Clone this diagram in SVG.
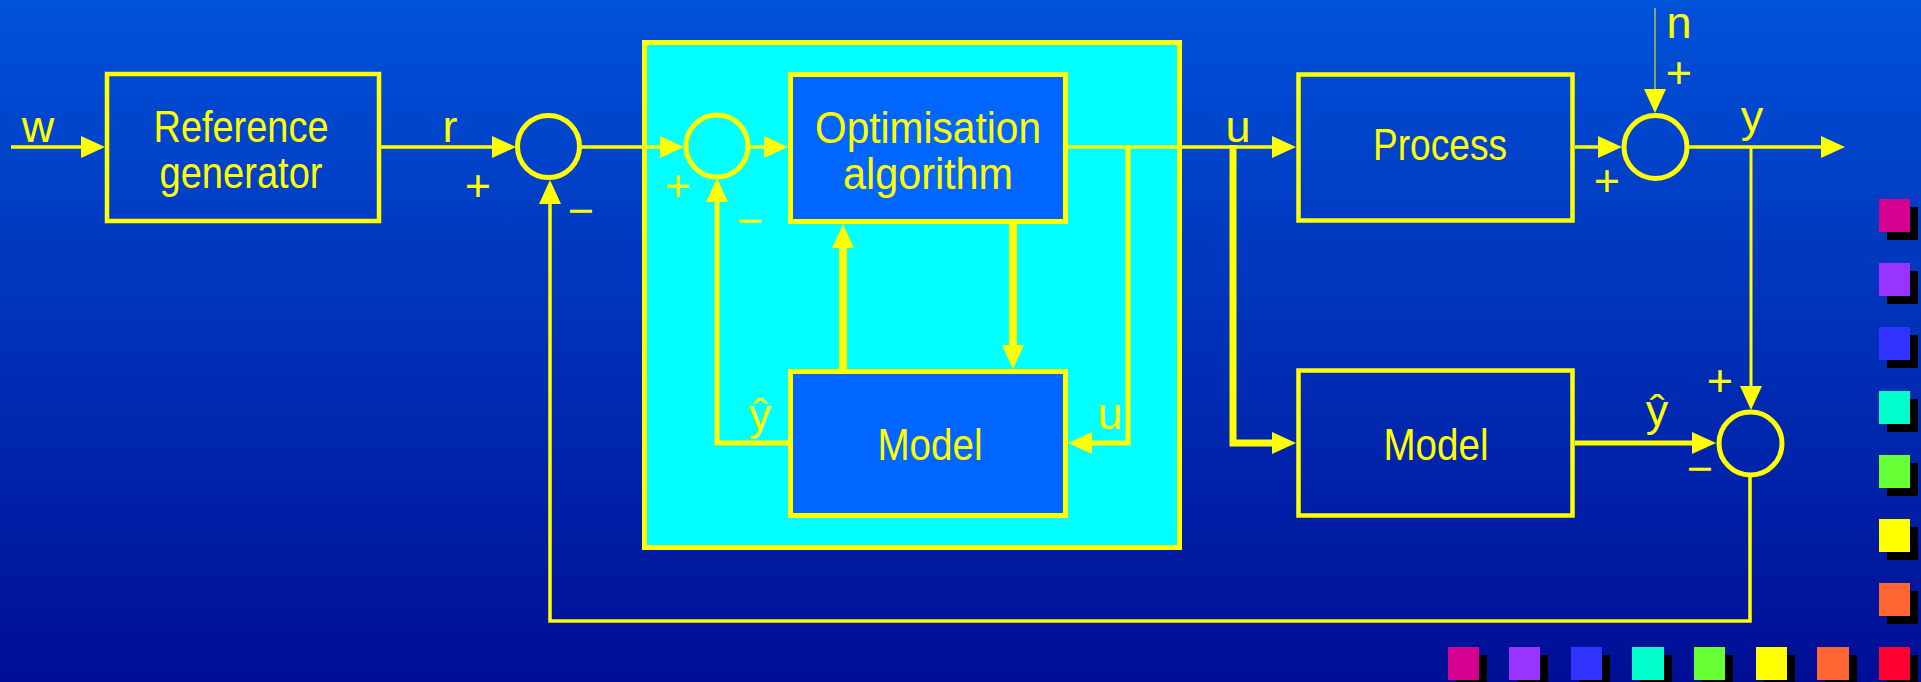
<svg xmlns="http://www.w3.org/2000/svg" width="1921" height="682" viewBox="0 0 1921 682">
<defs>
<linearGradient id="bg" x1="0" y1="0" x2="0" y2="1">
<stop offset="0" stop-color="#0052d9"/>
<stop offset="1" stop-color="#000e95"/>
</linearGradient>
<marker id="arr" viewBox="0 0 24 22" markerWidth="24" markerHeight="22" refX="1" refY="11" orient="auto" markerUnits="userSpaceOnUse">
<path d="M0,0 L24,11 L0,22 z" fill="#ffff00"/>
</marker>
<style>
.box{fill:none;stroke:#ffff00;stroke-width:4.5}
.inner{fill:#0066ff;stroke:#ffff00;stroke-width:5}
.sum{fill:none;stroke:#ffff00;stroke-width:5}
.t{font-family:"Liberation Sans",Arial,sans-serif;font-size:45px;fill:#ffff00;text-anchor:middle}
.c{fill:none;stroke:#ffff00;stroke-linejoin:miter}
.sh{fill:#000000}
</style>
</defs>
<rect x="0" y="0" width="1921" height="682" fill="url(#bg)"/>

<g id="controller">
<rect x="644.5" y="42.5" width="535" height="505" fill="#00ffff" stroke="#ffff00" stroke-width="5"/>
</g>

<g id="refgen">
<rect class="box" x="107" y="74" width="272" height="147"/>
<text class="t" x="241" y="142" textLength="175" lengthAdjust="spacingAndGlyphs">Reference</text>
<text class="t" x="241" y="188" textLength="163" lengthAdjust="spacingAndGlyphs">generator</text>
</g>

<g id="optim">
<rect class="inner" x="790.5" y="74.5" width="275" height="147"/>
<text class="t" x="928" y="143" font-size="43" textLength="226" lengthAdjust="spacingAndGlyphs">Optimisation</text>
<text class="t" x="928" y="189" font-size="43" textLength="170" lengthAdjust="spacingAndGlyphs">algorithm</text>
</g>

<g id="model-inner">
<rect class="inner" x="790.5" y="371.5" width="275" height="144"/>
<text class="t" x="930" y="460" textLength="105" lengthAdjust="spacingAndGlyphs">Model</text>
</g>

<g id="process">
<rect class="box" x="1298.5" y="74.5" width="274" height="146" stroke-width="5"/>
<text class="t" x="1440" y="160" textLength="134" lengthAdjust="spacingAndGlyphs">Process</text>
</g>

<g id="model-outer">
<rect class="box" x="1298.5" y="370.5" width="274" height="145" stroke-width="5"/>
<text class="t" x="1436" y="460" textLength="105" lengthAdjust="spacingAndGlyphs">Model</text>
</g>

<g id="sum1"><circle class="sum" cx="548.5" cy="146.5" r="31"/></g>
<g id="sum2"><circle class="sum" cx="717" cy="146" r="31"/></g>
<g id="sum3"><circle class="sum" cx="1655.5" cy="147" r="31.5"/></g>
<g id="sum4"><circle class="sum" cx="1750.5" cy="443.5" r="31.5"/></g>

<g id="connectors">
<path class="c" stroke-width="3.5" d="M11,147 H82" marker-end="url(#arr)"/>
<path class="c" stroke-width="3.5" d="M381,147 H493" marker-end="url(#arr)"/>
<path class="c" stroke-width="3.5" d="M579,147 H661" marker-end="url(#arr)"/>
<path class="c" stroke-width="3.5" d="M748,147 H765" marker-end="url(#arr)"/>
<path class="c" stroke-width="3.5" d="M1068,147 H1273" marker-end="url(#arr)"/>
<path class="c" stroke-width="5" d="M1128,145 V443 H1091" marker-end="url(#arr)"/>
<path class="c" stroke-width="5" d="M788,443 H717 V201" marker-end="url(#arr)"/>
<path class="c" stroke-width="8" d="M843,369 V247" marker-end="url(#arr)"/>
<path class="c" stroke-width="8" d="M1013,224 V346" marker-end="url(#arr)"/>
<path class="c" stroke-width="7" d="M1233,145 V443 H1273" marker-end="url(#arr)"/>
<path class="c" stroke-width="3.5" d="M1575,147 H1599" marker-end="url(#arr)"/>
<path class="c" stroke-width="1" d="M1655,8 V90" marker-end="url(#arr)"/>
<path class="c" stroke-width="3.5" d="M1686,147 H1822" marker-end="url(#arr)"/>
<path class="c" stroke-width="3" d="M1751,147 V387" marker-end="url(#arr)"/>
<path class="c" stroke-width="5" d="M1575,443 H1693" marker-end="url(#arr)"/>
<path class="c" stroke-width="3.5" d="M1750,474 V621 H550 V203" marker-end="url(#arr)"/>
</g>

<g id="labels">
<text class="t" x="38" y="142">w</text>
<text class="t" x="450" y="142">r</text>
<text class="t" x="478" y="201">+</text>
<text class="t" x="581" y="226">−</text>
<text class="t" x="678" y="201">+</text>
<text class="t" x="750" y="236">−</text>
<text class="t" x="760" y="430">ŷ</text>
<text class="t" x="1110" y="429">u</text>
<text class="t" x="1238" y="142">u</text>
<text class="t" x="1679" y="38">n</text>
<text class="t" x="1679" y="88">+</text>
<text class="t" x="1607" y="196">+</text>
<text class="t" x="1752" y="132">y</text>
<text class="t" x="1657" y="426">ŷ</text>
<text class="t" x="1720" y="396">+</text>
<text class="t" x="1700" y="484">−</text>
</g>

<g id="palette">
<rect class="sh" x="1887" y="207" width="31" height="33"/>
<rect class="sh" x="1887" y="271" width="31" height="33"/>
<rect class="sh" x="1887" y="335" width="31" height="33"/>
<rect class="sh" x="1887" y="399" width="31" height="33"/>
<rect class="sh" x="1887" y="463" width="31" height="33"/>
<rect class="sh" x="1887" y="527" width="31" height="33"/>
<rect class="sh" x="1887" y="591" width="31" height="33"/>
<rect class="sh" x="1456" y="655" width="31" height="33"/>
<rect class="sh" x="1517" y="655" width="31" height="33"/>
<rect class="sh" x="1579" y="655" width="31" height="33"/>
<rect class="sh" x="1640" y="655" width="32" height="33"/>
<rect class="sh" x="1702" y="655" width="31" height="33"/>
<rect class="sh" x="1764" y="655" width="31" height="33"/>
<rect class="sh" x="1825" y="655" width="32" height="33"/>
<rect class="sh" x="1887" y="655" width="31" height="33"/>
<rect x="1879" y="199" width="31" height="33" fill="#d5008f"/>
<rect x="1879" y="263" width="31" height="33" fill="#9933ff"/>
<rect x="1879" y="327" width="31" height="33" fill="#3333ff"/>
<rect x="1879" y="391" width="31" height="33" fill="#00ffcc"/>
<rect x="1879" y="455" width="31" height="33" fill="#66ff33"/>
<rect x="1879" y="519" width="31" height="33" fill="#ffff00"/>
<rect x="1879" y="583" width="31" height="33" fill="#ff6633"/>
<rect x="1448" y="647" width="31" height="33" fill="#d5008f"/>
<rect x="1509" y="647" width="31" height="33" fill="#9933ff"/>
<rect x="1571" y="647" width="31" height="33" fill="#3333ff"/>
<rect x="1632" y="647" width="32" height="33" fill="#00ffcc"/>
<rect x="1694" y="647" width="31" height="33" fill="#66ff33"/>
<rect x="1756" y="647" width="31" height="33" fill="#ffff00"/>
<rect x="1817" y="647" width="32" height="33" fill="#ff6633"/>
<rect x="1879" y="647" width="31" height="33" fill="#ff0033"/>
</g>
</svg>
